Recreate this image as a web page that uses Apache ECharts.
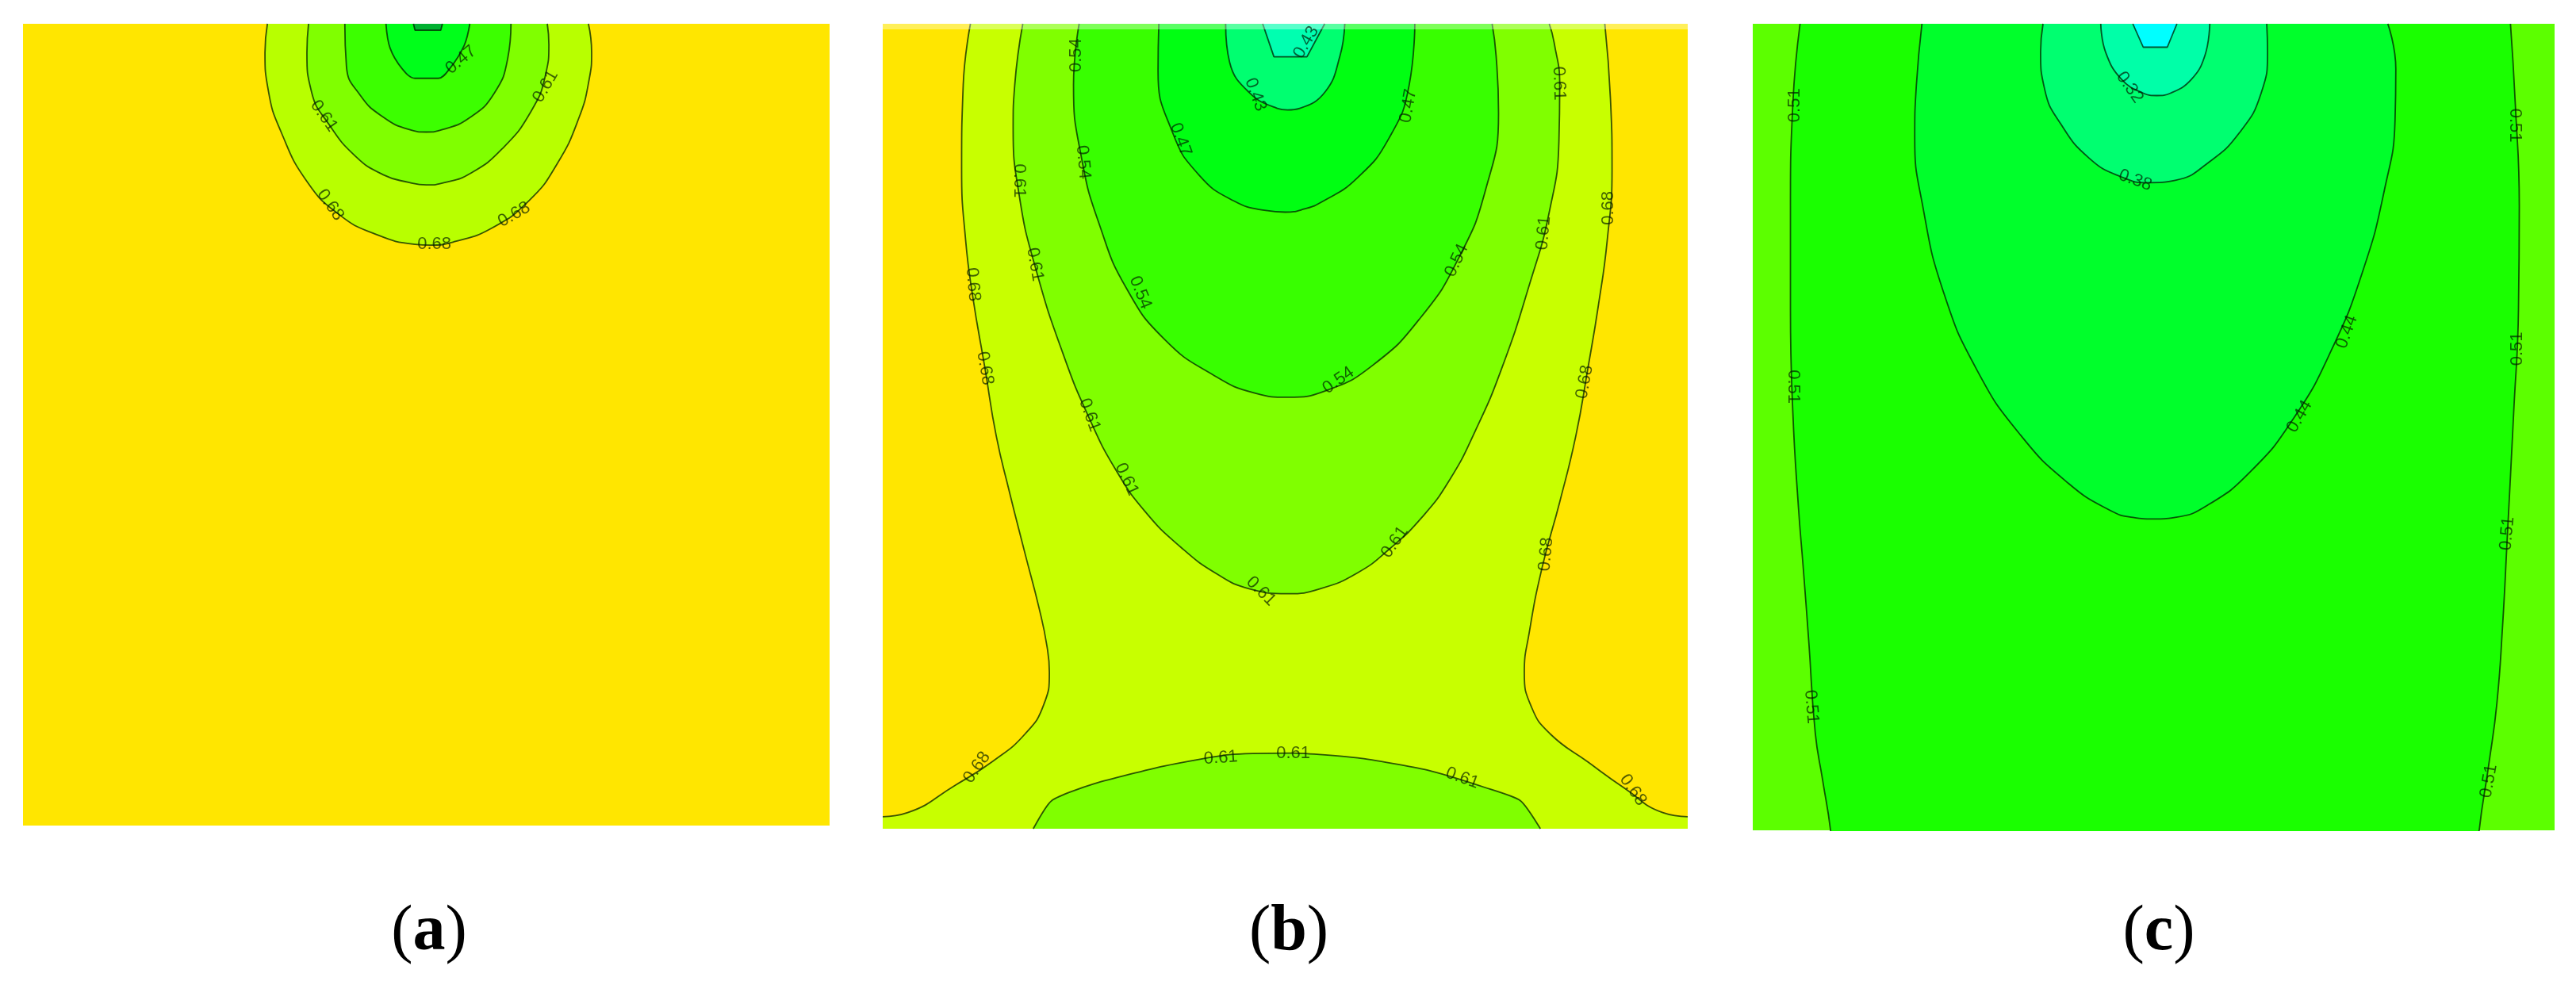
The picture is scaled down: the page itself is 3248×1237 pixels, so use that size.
<!DOCTYPE html>
<html>
<head>
<meta charset="utf-8">
<style>html,body{margin:0;padding:0;background:#fff}#chart{width:3248px;height:1237px}</style>
<script src="https://cdn.jsdelivr.net/npm/echarts@6/dist/echarts.min.js"></script>
</head>
<body>
<div id="chart"></div>
<script>
// Contours, in percent of panel width (x) and panel depth (y).
const a068 = [[30.3,0],[30,3.6],[30.4,8.25],[32,13.5],[35.3,19.8],[39.2,23.8],[43.6,26.2],[48.6,27.5],[50.5,27.6],[53.4,27.2],[58.1,25.5],[62.8,22],[66.2,17.5],[68.9,11.8],[70.2,6.9],[70.5,3.6],[70.1,0]];
const a061 = [[35.4,0],[35.2,3.6],[35.8,8.6],[37.9,12.5],[41.2,16.5],[44.6,18.8],[47.9,19.8],[50,20.1],[52.3,19.8],[55.4,18.7],[59.4,15.6],[63,10.9],[64.8,6.3],[65.2,2.6],[65,0]];
const a054 = [[39.9,0],[40.1,5.3],[41.8,8.9],[44.6,11.6],[47.9,13.2],[50,13.5],[52,13.2],[55.4,11.7],[58.4,8.7],[60.1,4.3],[60.5,0]];
const a047 = [[45,0],[45.5,3],[47,5.6],[48.6,6.8],[51.5,6.8],[52.9,5.6],[54.7,2.7],[55.4,0]];
const a040 = [[48.4,0],[48.6,0.8],[51.8,0.8],[52,0]];

const b068L = [[10.9,0],[10,7.6],[9.8,18.1],[10.3,26.9],[11.2,34],[12.7,42.8],[14.1,51.2],[15.7,58],[17.7,65.9],[19.4,72.5],[20.4,77.3],[20.7,80.6],[20,84.6],[17.7,88.2],[13.7,91.6],[9,94.6],[3.1,98],[0,98.5]];
const b068R = [[89.7,0],[90.4,9.3],[90.6,18.1],[90,26.9],[88.9,35],[87.6,42.8],[86.1,51.2],[84.1,59.4],[81.9,67.6],[80.3,75.7],[79.7,80.6],[80.6,84.9],[82.9,88.2],[87.6,91.7],[92.2,95],[96.9,98],[100,98.5]];
const b061 = [[17.4,0],[16.4,7.6],[16.2,12.8],[17,21.6],[19,30.4],[22.4,41],[25.7,49.1],[29,55.5],[32.6,60.6],[37,65],[41.6,68.4],[45.6,70.2],[50.3,70.8],[54.3,70.2],[59,68.2],[63,65.2],[67,61.3],[70.4,56.7],[73.6,50.6],[76.9,42.8],[80.4,32.2],[82.8,23.4],[84,14.6],[84.1,7.6],[83.4,2.3],[82.8,0]];
const b061Low = [[18.7,100],[21,96.5],[26.3,94.4],[35,92.2],[43,90.8],[50.9,90.6],[59,91.2],[67.6,92.7],[74.9,94.9],[79.2,96.5],[81.7,100]];
const b054 = [[24.4,0],[23.7,7.6],[24.7,16.7],[27,25.2],[30.3,32.9],[35,39.2],[41,43.6],[46.3,45.9],[50.3,46.4],[55,45.6],[60.9,42.4],[66.9,36.4],[71.6,29],[74.9,20.6],[76.5,11.1],[76.2,4],[75.7,0]];
const b047 = [[34.3,0],[34.2,5.8],[36,13.5],[39.3,18.8],[43.6,22],[47.6,23.2],[50,23.4],[52.4,23],[54.6,22.1],[58.9,19.2],[62.9,14.2],[65.4,7.6],[66.1,0]];
const b043 = [[42.6,0],[43.1,4.8],[45.6,8.6],[49,10.5],[50.3,10.7],[51.8,10.5],[55,8.4],[56.8,4],[57.4,0]];
const b036 = [[47.2,0],[48.6,4.1],[52.7,4.1],[54.9,0]];

const c051 = [[5.9,0],[5,9.9],[4.7,22.6],[4.7,35.4],[5,48.2],[5.7,60],[6.3,67.5],[7,76.8],[7.8,88],[8.7,93.7],[9.7,100],[10.2,106],[90.2,106],[90.6,100],[91.8,91.8],[92.8,84.3],[93.5,74.9],[94.1,63.7],[94.9,48.2],[95.5,35.4],[95.6,22.6],[95.1,9.9],[94.5,0]];
const c044 = [[21.1,0],[20.4,7.7],[20.2,14.1],[21.2,22.6],[23.8,33.3],[28,43],[33.4,51],[39.4,57],[44.7,60.4],[47.4,61.2],[50,61.4],[52.7,61.2],[56.7,59.7],[62.1,55.5],[67.4,49],[72.1,40.6],[76.1,30.6],[78.8,20.5],[80.1,12],[80.2,5.6],[79.2,0]];
const c038 = [[36.2,0],[35.9,3.5],[36.4,8.1],[38.4,12.4],[42,16.7],[46,19],[49.4,19.7],[52.7,19.4],[56.7,17.3],[60.7,13.5],[63.4,8.6],[64.2,3.5],[64.1,0]];
const c032 = [[43.4,0],[44,3.5],[46,6.9],[48.7,8.6],[50.4,8.9],[52.1,8.6],[54.7,6.9],[56.4,3.9],[57,0]];
const c026 = [[47.4,0],[48.7,2.9],[51.7,2.9],[52.9,0]];

// Contour label anchors [x, y, text]; their rotation is in the matching *Rot list.
const labelsA = [[54.3,4.5,'0.47'],[64.8,7.8,'0.61'],[37.3,11.5,'0.61'],[38.1,22.6,'0.68'],[51,27.5,'0.68'],[60.9,23.8,'0.68']];
const labelsARot = [40,60,-55,-55,0,30];
const labelsB = [[52.6,2.3,'0.43'],[24,3.9,'0.54'],[84,7.4,'0.61'],[65.3,10.2,'0.47'],[46.3,8.8,'0.43'],[37,14.4,'0.47'],[24.9,17.2,'0.54'],[17,19.5,'0.61'],[90.1,22.9,'0.68'],[82.1,26,'0.61'],[71.3,29.4,'0.54'],[18.9,29.9,'0.61'],[11.2,32.4,'0.68'],[32,33.4,'0.54'],[12.7,42.8,'0.68'],[87.2,44.5,'0.68'],[56.6,44.3,'0.54'],[25.7,48.6,'0.61'],[30.3,56.6,'0.61'],[63.6,64.4,'0.61'],[47,70.5,'0.61'],[82.4,65.9,'0.68'],[11.7,92.4,'0.68'],[93.2,95.2,'0.68'],[42,91.2,'0.61'],[51,90.6,'0.61'],[72,93.7,'0.61']];
const labelsBRot = [60,90,-88,80,-70,-70,-85,-90,90,85,65,-80,-85,-68,-80,80,35,-70,-65,55,-45,85,55,-55,4,0,-20];
const labelsC = [[5.2,10.1,'0.51'],[95.1,12.6,'0.51'],[47,7.9,'0.32'],[47.7,19.4,'0.38'],[74.1,38.2,'0.44'],[68.2,48.7,'0.44'],[5.1,45,'0.51'],[95.3,40.3,'0.51'],[94.1,63.2,'0.51'],[7.3,84.7,'0.51'],[91.8,93.9,'0.51']];
const labelsCRot = [90,-90,-55,-20,70,60,-90,90,85,-85,80];

const captions = ['a','b','c'];
const stripB = [[0,0],[100,0]];

// Layout and style
const panels = [
  {left:29, top:30, width:1017, height:1011, bg:'#FFE600', cx:536},
  {left:1113, top:30, width:1015, height:1015, bg:'#C8FF00', cx:1620},
  {left:2210, top:30, width:1011, height:1017, bg:'#5CFF00', cx:2717}
];
const bands = [
  [0,a068,'#B8FF00','start',0.5],[0,a061,'#80FF00','start',0.5],[0,a054,'#3CFF00','start',0.5],[0,a047,'#00FF1A','start',0.35],[0,a040,'#00B030','start',0],
  [1,b068L,'#FFE600','start',0.5],[1,b068R,'#FFE600','start',0.5],[1,b061Low,'#80FF00','end',0.2],[1,b061,'#80FF00','start',0.5],[1,b054,'#38FF00','start',0.5],[1,b047,'#00FF12','start',0.5],[1,b043,'#00FF70','start',0.45],[1,b036,'#00FFB0','start',0],
  [2,c051,'#1AFF00','start',0.5],[2,c044,'#00FF2B','start',0.5],[2,c038,'#00FF70','start',0.5],[2,c032,'#00FFA8','start',0.45],[2,c026,'#00FFFF','start',0]
];
const lineColor = 'rgba(0,30,0,0.75)';
const series = bands.map(([g,pts,fill,origin,sm]) => ({
  type:'line', xAxisIndex:g, yAxisIndex:g, data:pts, smooth:sm, showSymbol:false, silent:true,
  lineStyle:{color:lineColor, width:1.8}, areaStyle:{color:fill, opacity:1, origin:origin}, animation:false
}));
// pale strip along the top edge of panel (b)
series.push({type:'line', xAxisIndex:1, yAxisIndex:1, data:stripB, showSymbol:false, silent:true, animation:false, z:5,
  lineStyle:{color:'rgba(255,255,255,0.35)', width:14}});
[[labelsA,labelsARot],[labelsB,labelsBRot],[labelsC,labelsCRot]].forEach(([l,r],g) => {
  series.push({type:'scatter', xAxisIndex:g, yAxisIndex:g, symbolSize:1, silent:true, animation:false, z:10,
    itemStyle:{color:'transparent'},
    data:l.map((d,i) => ({value:[d[0],d[1]], label:{show:true, position:'inside', formatter:d[2], rotate:r[i],
      fontFamily:'Liberation Sans', fontSize:22, color:'rgba(0,25,0,0.85)'}}))
  });
});

const chart = echarts.init(document.getElementById('chart'), null, {renderer:'canvas'});
chart.setOption({
  animation:false,
  backgroundColor:'#fff',
  grid:panels.map(p => ({left:p.left, top:p.top, width:p.width, height:p.height, show:true, backgroundColor:p.bg, borderWidth:0})),
  xAxis:panels.map((p,i) => ({type:'value', gridIndex:i, min:0, max:100, show:false})),
  yAxis:panels.map((p,i) => ({type:'value', gridIndex:i, min:0, max:100, inverse:true, show:false})),
  title:panels.map((p,i) => ({
    text:'{n|(}{b|'+captions[i]+'}{n|)}', left:p.cx, top:1130, textAlign:'center',
    textStyle:{fontWeight:'normal', rich:{
      n:{fontFamily:'Liberation Serif', fontSize:82, fontWeight:'normal', color:'#000'},
      b:{fontFamily:'Liberation Serif', fontSize:82, fontWeight:'bold', color:'#000'}
    }}
  })),
  series:series
});
</script>
</body>
</html>
